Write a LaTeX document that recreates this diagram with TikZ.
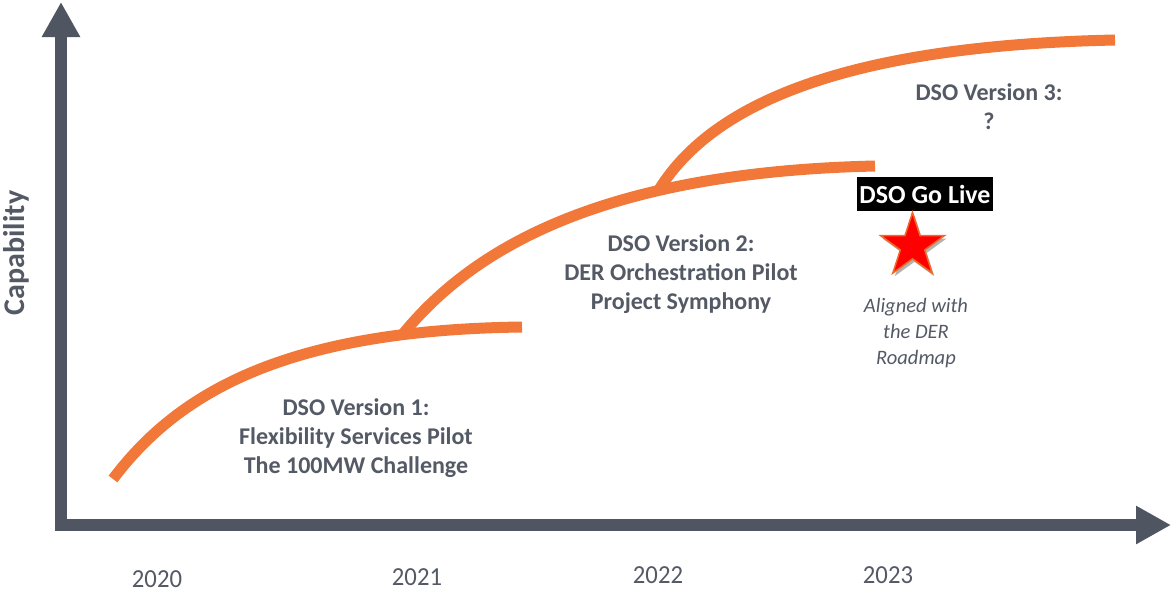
\documentclass[tikz,border=0pt]{standalone}
\usepackage{fontspec}
\setmainfont{Carlito}
\usetikzlibrary{arrows.meta,shapes.geometric,shadows}
\definecolor{axisgray}{RGB}{80,86,97}
\definecolor{txtgray}{RGB}{84,90,101}
\definecolor{curveor}{RGB}{241,120,57}
\definecolor{starborder}{RGB}{240,105,40}
\begin{document}
\begin{tikzpicture}[x=1pt,y=-1pt,
  axisline/.style={draw=axisgray,line width=11.5pt,line join=miter,
    {Triangle[width=36pt,length=35pt]}-{Triangle[width=36pt,length=35pt]}},
  capcurve/.style={draw=curveor,line width=11pt,line cap=butt},
  stagetext/.style={text=txtgray,font=\bfseries\fontsize{24}{29}\selectfont,align=center,inner sep=0pt},
  captext/.style={text=txtgray,font=\bfseries\fontsize{30}{34}\selectfont,inner sep=0pt},
  yeartext/.style={text=txtgray,font=\fontsize{26}{30}\selectfont,inner sep=0pt,xscale=0.95},
  notetext/.style={text=txtgray,font=\itshape\fontsize{20.5}{26}\selectfont,align=center,inner sep=0pt},
  golive/.style={fill=black,text=white,font=\bfseries\fontsize{26}{30}\selectfont,
    minimum width=136pt,minimum height=34pt,inner sep=0pt},
  starshape/.style={star,star points=5,star point ratio=2.618,minimum size=67pt,inner sep=0pt,
    fill=red,draw=starborder,line width=1.5pt,
    drop shadow={shadow xshift=2pt,shadow yshift=-3pt,opacity=0.3,fill=black}}]
\fill[white] (0,0) rectangle (1172,592);
\useasboundingbox (0,0) rectangle (1172,592);
% axes
\coordinate (ytop) at (61,2);
\coordinate (origin) at (61,525);
\coordinate (xend) at (1171,525);
\draw[axisline] (ytop) -- (origin) -- (xend);
% curves
\coordinate (c1s) at (113,479);
\coordinate (c1e) at (522,327);
\coordinate (c2e) at (875,166);
\coordinate (c3e) at (1115,40);
\draw[capcurve] (c1s) .. controls (180,390) and (290,330) .. (c1e) coordinate[pos=0.81] (b1);
\draw[capcurve] (b1) .. controls (476,244) and (610,172) .. (c2e) coordinate[pos=0.68] (b2);
\draw[capcurve] (b2) .. controls (720,90) and (880,45) .. (c3e);
% texts
\node[captext,rotate=90] (cap) at (16,253) {Capability};
\node[stagetext] (v1) at (356,438) {DSO Version 1:\\Flexibility Services Pilot\\The 100MW Challenge};
\node[stagetext] (v2) at (681,274) {DSO Version 2:\\DER Orchestration Pilot\\Project Symphony};
\node[stagetext] (v3) at (989,107) {DSO Version 3:\\?};
\node[golive] (go) at (925,194) {DSO Go Live};
\node[starshape] (star) at (912.5,246) {};
\node[notetext] (al) at (916,333) {Aligned with\\the DER\\Roadmap};
\node[yeartext] (y20) at (157,579.5) {2020};
\node[yeartext] (y21) at (417,577.5) {2021};
\node[yeartext] (y22) at (658,575.5) {2022};
\node[yeartext] (y23) at (888,575.5) {2023};
\end{tikzpicture}
\end{document}
